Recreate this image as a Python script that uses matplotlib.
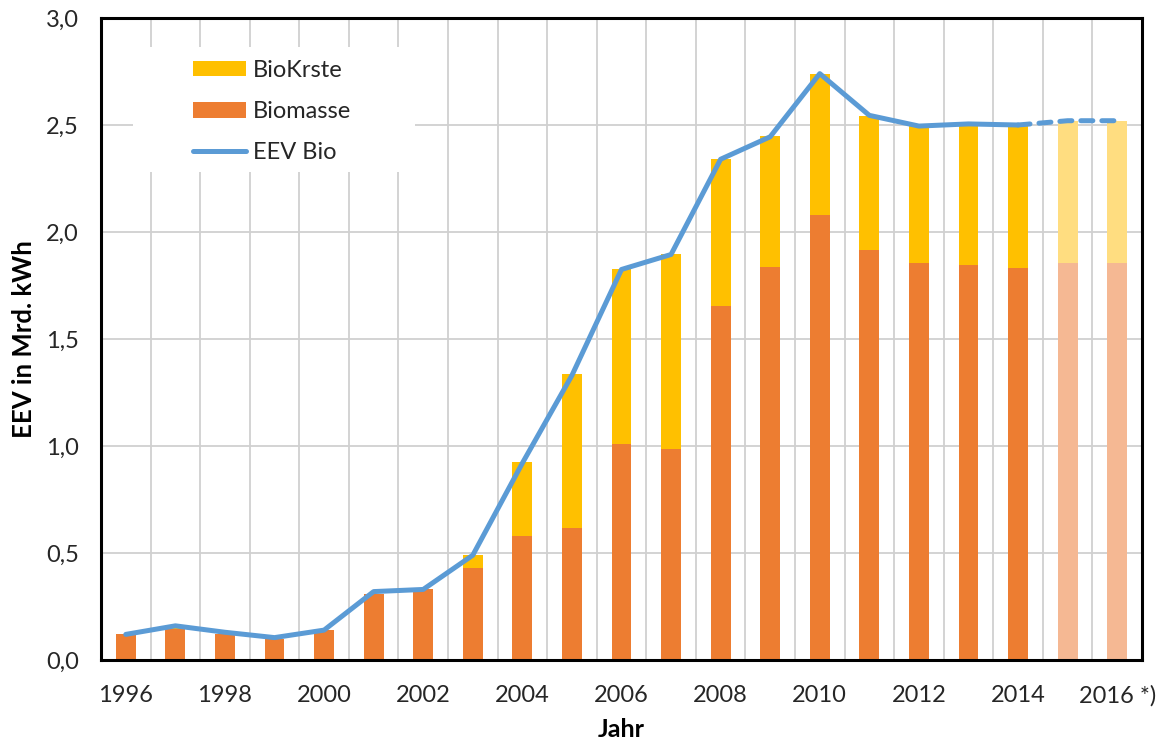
import matplotlib
matplotlib.use("Agg")
import matplotlib.pyplot as plt
from matplotlib.patches import Patch, Rectangle
from matplotlib.lines import Line2D
import numpy as np

years = list(range(1996, 2017))
biomasse = [0.12, 0.145, 0.12, 0.10, 0.14, 0.31, 0.33, 0.43, 0.58, 0.617, 1.01,
            0.986, 1.655, 1.835, 2.08, 1.915, 1.855, 1.845, 1.83, 1.855, 1.855]
biokrste = [0.0, 0.005, 0.0, 0.0, 0.0, 0.0, 0.0, 0.06, 0.345, 0.718, 0.815,
            0.909, 0.685, 0.615, 0.66, 0.625, 0.64, 0.66, 0.665, 0.665, 0.665]
eev_bio = [0.12, 0.16, 0.13, 0.105, 0.14, 0.32, 0.33, 0.49, 0.92, 1.33, 1.825,
           1.895, 2.34, 2.445, 2.74, 2.545, 2.495, 2.505, 2.50, 2.52, 2.52]
n_actual = 19  # 1996..2014 actual, 2015-2016 estimate
xtick_years = [1996, 1998, 2000, 2002, 2004, 2006, 2008, 2010, 2012, 2014, 2016]
xtick_labels = ["1996", "1998", "2000", "2002", "2004", "2006", "2008", "2010",
                "2012", "2014", "2016 *)"]
yticks = [0.0, 0.5, 1.0, 1.5, 2.0, 2.5, 3.0]

ORANGE = "#ED7D31"
YELLOW = "#FFC000"
BLUE = "#5B9BD5"
ORANGE_L = "#F5B893"
YELLOW_L = "#FFDD80"
TXT = "#262626"
FS = 17

plt.rcParams['font.family'] = ['Lato', 'DejaVu Sans']
fig = plt.figure(figsize=(11.61, 7.40), dpi=100)
ax = fig.add_axes([0.087, 0.108, 0.8966, 0.8677])

x = np.array(years)
col_o = [ORANGE if i < n_actual else ORANGE_L for i in range(len(years))]
col_y = [YELLOW if i < n_actual else YELLOW_L for i in range(len(years))]
ax.bar(x, biomasse, width=0.4, color=col_o, zorder=2)
ax.bar(x, biokrste, width=0.4, bottom=biomasse, color=col_y, zorder=2)

LW = 3.6
ax.plot(x[:n_actual], eev_bio[:n_actual], color=BLUE, lw=LW,
        solid_capstyle='round', solid_joinstyle='round', zorder=3)
ax.plot(x[n_actual - 1:], eev_bio[n_actual - 1:], color=BLUE, lw=LW,
        linestyle=(0, (2.4, 1.8)), dash_capstyle='round', zorder=3)

ax.set_xlim(1995.5, 2016.5)
ax.set_ylim(0, 3.0)
ax.set_yticks(yticks)
ax.set_yticklabels([f"{v:.1f}".replace('.', ',') for v in yticks])
ax.set_xticks(xtick_years)
ax.set_xticklabels(xtick_labels)
ax.set_xticks(np.arange(1995.5, 2016.6, 1.0), minor=True)
ax.tick_params(axis='both', which='both', length=0, labelsize=FS, colors=TXT)
ax.tick_params(axis='x', pad=18)
ax.tick_params(axis='y', pad=16)
ax.grid(axis='y', which='major', color='#D0D0D0', lw=1.3, zorder=0)
ax.grid(axis='x', which='minor', color='#D0D0D0', lw=1.3, zorder=0)
ax.grid(axis='x', which='major', visible=False)
ax.set_axisbelow(True)
for s in ax.spines.values():
    s.set_color('black')
    s.set_linewidth(2.2)
    s.set_zorder(4)

ax.set_xlabel("Jahr", fontsize=18, fontweight='bold', labelpad=8, color='black')
ax.set_ylabel("EEV in Mrd. kWh", fontsize=18.5, fontweight='bold', labelpad=7, color='black')

# white legend area
ax.add_patch(Rectangle((0.0307, 0.760), 0.2709, 0.195, transform=ax.transAxes,
                       facecolor='white', edgecolor='none', zorder=1.5))

handles = [Patch(facecolor=YELLOW, edgecolor='none'),
           Patch(facecolor=ORANGE, edgecolor='none'),
           Line2D([0], [0], color=BLUE, lw=LW, solid_capstyle='round')]
leg = ax.legend(handles, ["BioKrste", "Biomasse", "EEV Bio"], loc='upper left',
                bbox_to_anchor=(0.0884, 0.935), fontsize=FS, frameon=False,
                handlelength=2.25, handleheight=0.65,
                labelspacing=0.86, borderpad=0, borderaxespad=0,
                handletextpad=0.3)
leg.set_zorder(5)
for t in leg.get_texts():
    t.set_color(TXT)

fig.savefig("out.png", dpi=100)
